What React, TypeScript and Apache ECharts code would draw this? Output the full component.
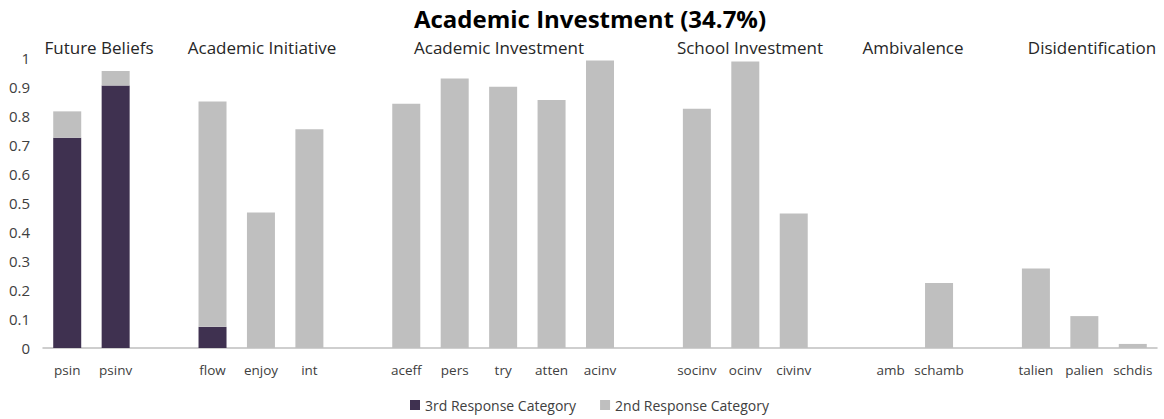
import React, { useEffect, useRef } from "react";
import * as echarts from "echarts";

const categories = ["psin", "psinv", "", "flow", "enjoy", "int", " ", "aceff", "pers", "try", "atten", "acinv", "  ", "socinv", "ocinv", "civinv", "   ", "amb", "schamb", "    ", "talien", "palien", "schdis"];
const thirdResponse = [0.725, 0.905, null, 0.073, null, null, null, null, null, null, null, null, null, null, null, null, null, null, null, null, null, null, null];
const secondResponse = [0.091, 0.05, null, 0.777, 0.467, 0.754, null, 0.842, 0.929, 0.901, 0.855, 0.991, null, 0.825, 0.988, 0.464, null, null, 0.224, null, 0.274, 0.11, 0.014];
const yTicks = [0, 0.1, 0.2, 0.3, 0.4, 0.5, 0.6, 0.7, 0.8, 0.9, 1];
const groupLabels = ["Future Beliefs", "Academic Initiative", "Academic Investment", "School Investment", "Ambivalence", "Disidentification"];
const groupLabelX = [99, 262, 499, 750, 913, 1092];

export default function App() {
  const ref = useRef<HTMLDivElement>(null);
  useEffect(() => {
    document.body.style.margin = "0";
    const chart = echarts.init(ref.current!, null, { renderer: "svg" });
    const font = "'Open Sans', sans-serif";
    chart.setOption({
      animation: false,
      textStyle: { fontFamily: font },
      title: {
        text: "Academic Investment (34.7%)",
        left: 585,
        textAlign: "center",
        top: 1,
        textStyle: { fontSize: 24, fontWeight: "bold", color: "#000", fontFamily: font },
      },
      legend: {
        bottom: 2,
        left: 405,
        itemWidth: 10,
        itemHeight: 10,
        itemGap: 24,
        icon: "rect",
        textStyle: { fontSize: 14, color: "#404040", fontFamily: font },
        data: ["3rd Response Category", "2nd Response Category"],
      },
      grid: { left: 43, right: 7, top: 58, bottom: 71, containLabel: false },
      xAxis: {
        type: "category",
        data: categories,
        axisLine: { lineStyle: { color: "#BFBFBF", width: 1.5 } },
        axisTick: { show: false },
        axisLabel: { interval: 0, color: "#404040", fontSize: 13.5, margin: 15, fontFamily: font },
      },
      yAxis: {
        type: "value",
        min: 0,
        max: 1,
        interval: 0.1,
        splitLine: { show: false },
        axisLine: { show: false },
        axisTick: { show: false },
        axisLabel: {
          color: "#404040",
          fontSize: 15,
          margin: 13,
          fontFamily: font,
          formatter: (v: number) => {
            const t = yTicks.find((x) => Math.abs(x - v) < 1e-9);
            return t === undefined ? "" : String(t);
          },
        },
      },
      graphic: groupLabels.map((g, i) => ({
        type: "text",
        x: groupLabelX[i],
        y: 47,
        style: {
          text: g,
          fill: "#262626",
          font: `17px ${font}`,
          textAlign: "center",
          textVerticalAlign: "middle",
        },
      })),
      series: [
        {
          name: "3rd Response Category",
          type: "bar",
          stack: "total",
          data: thirdResponse,
          barWidth: 28,
          itemStyle: { color: "#3F3150" },
        },
        {
          name: "2nd Response Category",
          type: "bar",
          stack: "total",
          data: secondResponse,
          barWidth: 28,
          itemStyle: { color: "#BFBFBF" },
        },
      ],
    });
    return () => chart.dispose();
  }, []);
  return <div ref={ref} style={{ width: 1164, height: 419 }} />;
}
